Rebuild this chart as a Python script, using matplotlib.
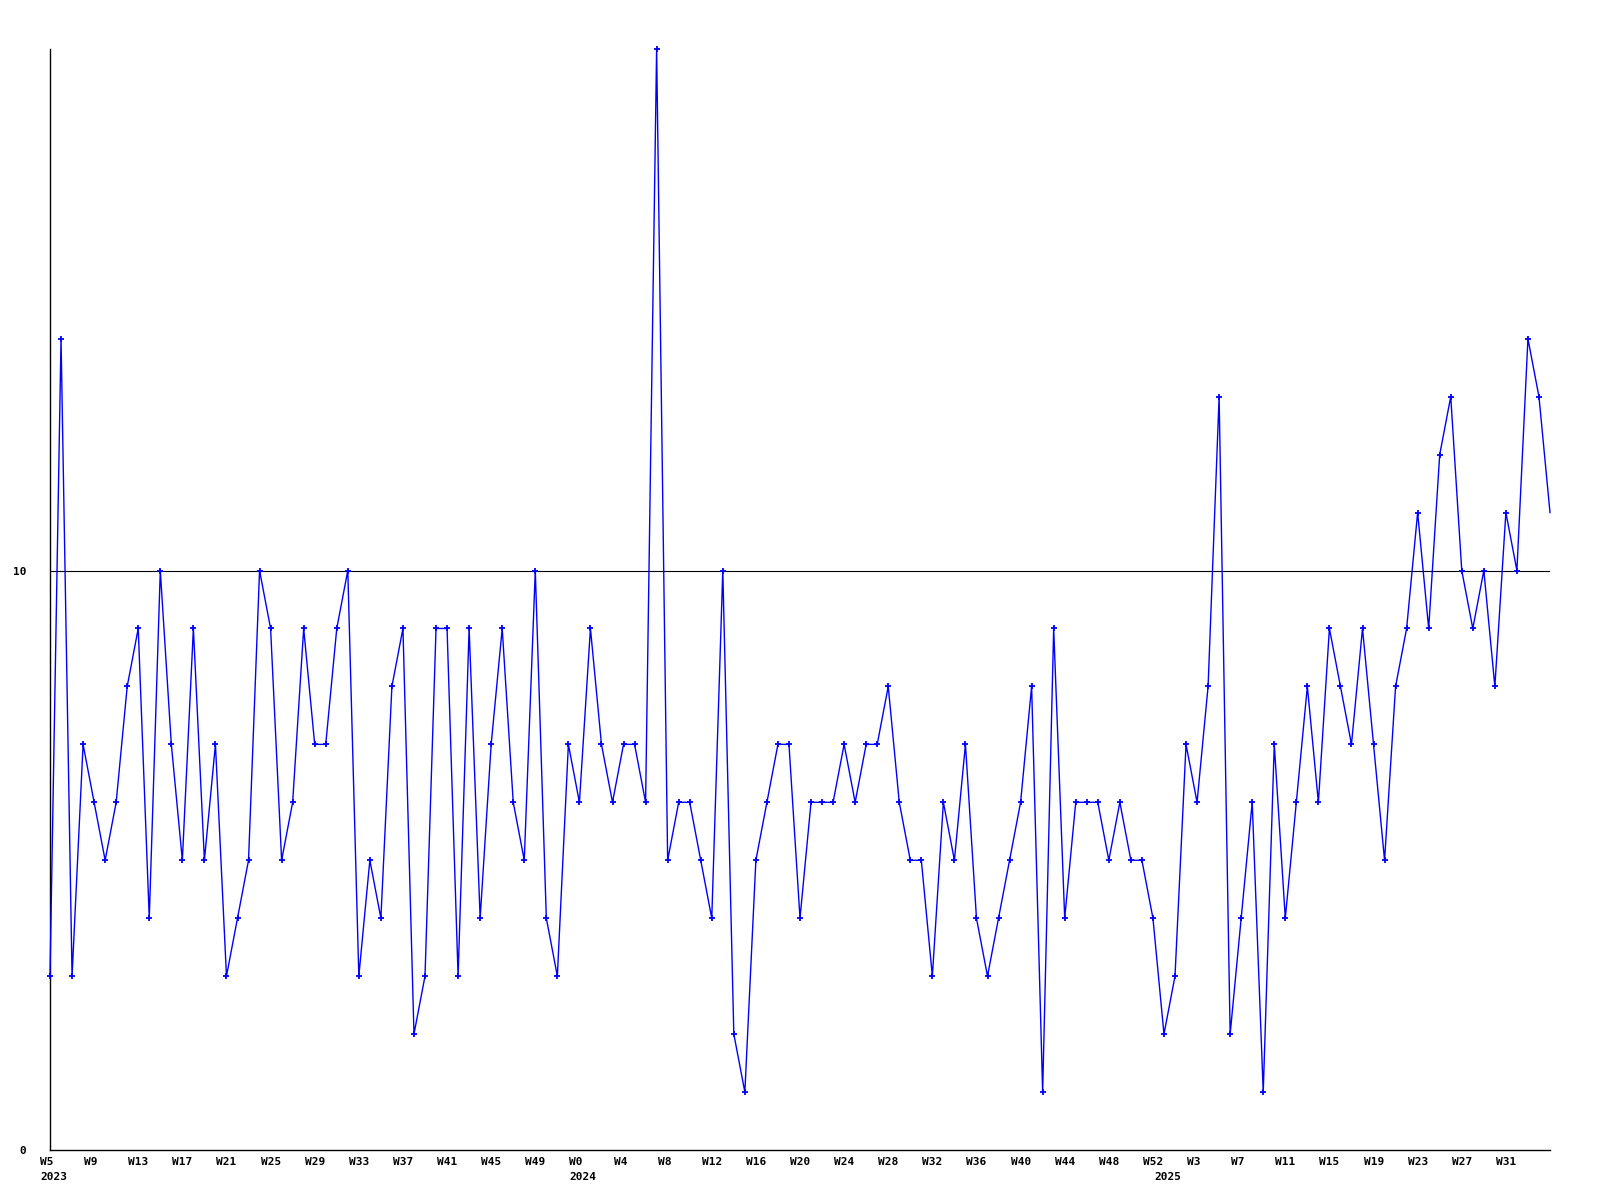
import matplotlib
matplotlib.use("Agg")
import matplotlib.pyplot as plt
import matplotlib.transforms as mtransforms

values = [
    3, 14, 3, 7, 6, 5, 6, 8, 9, 4, 10, 7, 5, 9, 5, 7, 3, 4, 5, 10, 9, 5, 6, 9, 7, 7,
    9, 10, 3, 5, 4, 8, 9, 2, 3, 9, 9, 3, 9, 4, 7, 9, 6, 5, 10, 4, 3, 7, 6, 9, 7, 6, 7,
    7, 6, 19, 5, 6, 6, 5, 4, 10, 2, 1, 5, 6, 7, 7, 4, 6, 6, 6, 7, 6, 7, 7, 8, 6, 5, 5,
    3, 6, 5, 7, 4, 3, 4, 5, 6, 8, 1, 9, 4, 6, 6, 6, 5, 6, 5, 5, 4, 2, 3, 7, 6, 8, 13,
    2, 4, 6, 1, 7, 4, 6, 8, 6, 9, 8, 7, 9, 7, 5, 8, 9, 11, 9, 12, 13, 10, 9, 10, 8, 11,
    10, 14, 13, 11,
]

week_labels = [
    "W5", "W9", "W13", "W17", "W21", "W25", "W29", "W33", "W37", "W41", "W45", "W49",
    "W0", "W4", "W8", "W12", "W16", "W20", "W24", "W28", "W32", "W36", "W40", "W44",
    "W48", "W52", "W3", "W7", "W11", "W15", "W19", "W23", "W27", "W31",
]
tick_step = 4
years = ["2023", "2024", "2025"]
year_start_index = [0, 48, 101]
y_ticks = [0, 10]

x = list(range(len(values)))

fig = plt.figure(figsize=(16, 12), dpi=100)
ax = fig.add_axes([50 / 1600, 50 / 1200, 1500 / 1600, (1150 - 49) / 1200])

ax.plot(x, values, color="#0000FF", lw=1.0, marker="+", ms=4.5, mew=1.3,
        markevery=list(range(len(values) - 1)), clip_on=False, zorder=3)

ax.set_xlim(0, len(values) - 1)
ax.set_ylim(0, max(values))

for s in ["top", "right"]:
    ax.spines[s].set_visible(False)
for s in ["left", "bottom"]:
    ax.spines[s].set_color("black")
    ax.spines[s].set_linewidth(1.0)

ax.axhline(10, color="black", lw=0.8, zorder=2)

font = dict(fontfamily="DejaVu Sans Mono", fontweight="bold", fontsize=8)

ax.set_yticks(y_ticks)
ax.set_yticklabels([str(v) for v in y_ticks], **font)
ax.tick_params(axis="y", length=0, pad=17)

ax.xaxis.remove_overlapping_locs = False
tick_pos = [i * tick_step for i in range(len(week_labels))]
ax.set_xticks(tick_pos)
ax.set_xticklabels(week_labels, ha="left", **font)
ax.set_xticks(year_start_index, minor=True)
ax.set_xticklabels(years, minor=True, ha="left", **font)
ax.tick_params(axis="x", which="major", length=0, pad=5)
ax.tick_params(axis="x", which="minor", length=0, pad=15.5)
offset = mtransforms.ScaledTranslation(-10 / 100, 0, fig.dpi_scale_trans)
for lab in ax.get_xticklabels() + ax.get_xticklabels(minor=True):
    lab.set_transform(lab.get_transform() + offset)

fig.savefig("out.png", dpi=100, facecolor="white")
